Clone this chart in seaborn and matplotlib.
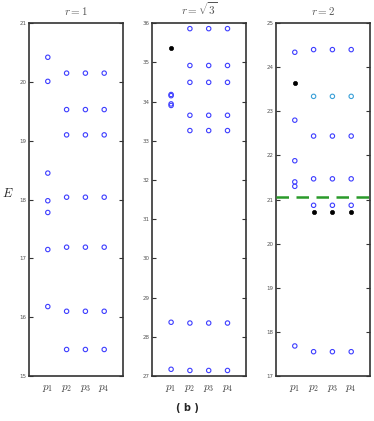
import pandas as pd
import matplotlib
matplotlib.use("Agg")
import matplotlib.pyplot as plt
import seaborn as sns

sns.set_style("white")
plt.rcParams['mathtext.fontset'] = 'cm'
plt.rcParams['font.family'] = ['DejaVu Sans']

# r = 1
r1_p1_open = [20.42, 20.01, 18.45, 17.98, 17.78, 17.15, 16.18]
r1_rest_open = [20.15, 19.53, 19.10, 18.04, 17.19, 16.10, 15.45]

# r = sqrt(3)
r3_p1_open = [34.18, 34.15, 33.94, 33.90, 28.37, 27.17]
r3_p1_black = [35.36]
r3_rest_open = [35.86, 34.92, 34.49, 33.65, 33.26, 28.35, 27.14]

# r = 2
r2_p1_open = [24.34, 22.80, 21.88, 21.40, 21.30, 17.68]
r2_p1_black = [23.64]
r2_rest_open = [24.40, 22.44, 21.47, 20.87, 17.55]
r2_rest_light = [23.34]
r2_rest_black = [20.71]
r2_line = 21.05

titles = [r'$r=1$', r'$r=\sqrt{3}$', r'$r=2$']
ylims = [(15, 21), (27, 36), (17, 25)]
p_labels = [r'$p_1$', r'$p_2$', r'$p_3$', r'$p_4$']
rest_p = [2, 3, 4]


def rows(panel, p_list, values, kind):
    return [(panel, p, e, kind) for p in p_list for e in values]


records = []
records += rows(0, [1], r1_p1_open, 'open')
records += rows(0, rest_p, r1_rest_open, 'open')
records += rows(1, [1], r3_p1_open, 'open')
records += rows(1, [1], r3_p1_black, 'black')
records += rows(1, rest_p, r3_rest_open, 'open')
records += rows(2, [1], r2_p1_open, 'open')
records += rows(2, [1], r2_p1_black, 'black')
records += rows(2, rest_p, r2_rest_open, 'open')
records += rows(2, rest_p, r2_rest_light, 'light')
records += rows(2, rest_p, r2_rest_black, 'black')
df = pd.DataFrame(records, columns=['panel', 'p', 'E', 'kind'])

styles = {
    'open': dict(facecolor='none', edgecolor='#3d3dff', linewidth=0.8, s=10),
    'light': dict(facecolor='none', edgecolor='#3aa0d8', linewidth=0.8, s=10),
    'black': dict(color='black', edgecolor='black', linewidth=0.5, s=9),
}

fig = plt.figure(figsize=(3.74, 4.21), dpi=100)
lefts = [29 / 374, 152.3 / 374, 276 / 374]
axes = [fig.add_axes([l, 0.107, 94 / 374, 0.838]) for l in lefts]

for i, ax in enumerate(axes):
    sub = df[df['panel'] == i]
    for kind, st in styles.items():
        d = sub[sub['kind'] == kind]
        if len(d):
            sns.scatterplot(data=d, x='p', y='E', marker='o', ax=ax, legend=False, **st)
    if i == 2:
        ax.axhline(r2_line, color='#2a9a2a', ls=(0, (5, 3)), lw=1.8, zorder=3)
    ax.set_xlim(0, 5)
    ax.set_ylim(*ylims[i])
    ax.set_yticks(range(ylims[i][0], ylims[i][1] + 1))
    ax.set_xticks([1, 2, 3, 4])
    ax.set_xticklabels(p_labels, fontsize=8, color='#444444')
    ax.tick_params(axis='x', length=0, pad=5)
    ax.tick_params(axis='y', direction='in', length=3, width=0.8, right=True,
                   left=True, labelsize=4, labelcolor='#555555', pad=2, color='#333333')
    ax.set_xlabel('')
    ax.set_ylabel('')
    ax.set_title(titles[i], fontsize=8, color='#555555', pad=6)
    for sp in ax.spines.values():
        sp.set_color('#333333')
        sp.set_linewidth(1.2)

axes[0].set_ylabel(r'$E$', fontsize=9, rotation=0, labelpad=8)
fig.text(0.5, 0.03, '( b )', ha='center', va='center', fontsize=7, fontweight='bold')

fig.savefig('out.png', dpi=100)
